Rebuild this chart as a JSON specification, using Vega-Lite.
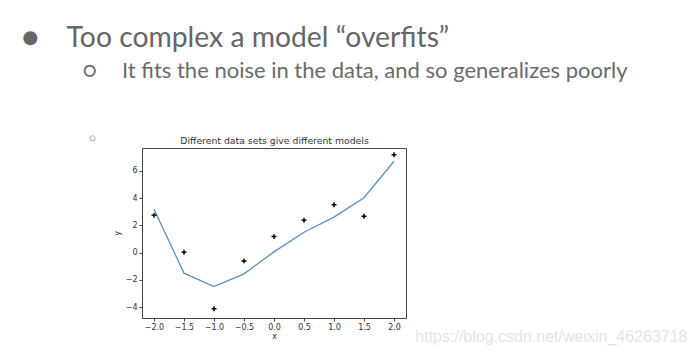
{
  "$schema": "https://vega.github.io/schema/vega-lite/v6.json",
  "width": 264,
  "height": 170,
  "autosize": "none",
  "padding": {"left": 142, "top": 148, "right": 291, "bottom": 36},
  "background": "white",
  "title": {
    "text": "●\u2003 Too complex a model “overfits”",
    "subtitle": "\u200b\u2003\u2003\u2003\u2002○\u2003\u2009 It fits the noise in the data, and so generalizes poorly",
    "anchor": "start",
    "frame": "group",
    "orient": "top",
    "font": "Lato",
    "fontSize": 28.3,
    "fontWeight": "normal",
    "color": "#666666",
    "subtitleFont": "Lato",
    "subtitleFontSize": 22,
    "subtitleColor": "#6b6b6b",
    "subtitlePadding": 8,
    "dx": -120,
    "offset": 50
  },
  "config": {
    "view": {"stroke": "#444444", "strokeWidth": 1},
    "axis": {
      "grid": false,
      "domain": false,
      "labelFont": "DejaVu Sans",
      "labelFontSize": 8,
      "labelColor": "#333333",
      "tickColor": "#444444",
      "tickSize": 3,
      "labelPadding": 2,
      "titleFont": "DejaVu Sans",
      "titleFontSize": 8,
      "titleFontWeight": "normal",
      "titleColor": "#333333"
    }
  },
  "datasets": {
    "fit": [
      {"x": -2.0, "y": 3.17},
      {"x": -1.5, "y": -1.51},
      {"x": -1.0, "y": -2.49},
      {"x": -0.5, "y": -1.56},
      {"x": 0.0, "y": 0.05},
      {"x": 0.5, "y": 1.49},
      {"x": 1.0, "y": 2.6},
      {"x": 1.5, "y": 4.02},
      {"x": 2.0, "y": 6.7}
    ],
    "obs": [
      {"x": -2.0, "y": 2.73},
      {"x": -1.5, "y": 0.02},
      {"x": -1.0, "y": -4.12},
      {"x": -0.5, "y": -0.61},
      {"x": 0.0, "y": 1.17},
      {"x": 0.5, "y": 2.37},
      {"x": 1.0, "y": 3.51},
      {"x": 1.5, "y": 2.66},
      {"x": 2.0, "y": 7.17}
    ]
  },
  "layer": [
    {
      "data": {"name": "fit"},
      "mark": {"type": "line", "color": "#5b8fbf", "strokeWidth": 1.3},
      "encoding": {
        "x": {
          "field": "x", "type": "quantitative",
          "scale": {"domain": [-2.2, 2.2], "nice": false, "zero": false},
          "axis": {"orient": "bottom", "values": [-2, -1.5, -1, -0.5, 0, 0.5, 1, 1.5, 2], "format": ".1f", "title": "x", "titlePadding": 1}
        },
        "y": {
          "field": "y", "type": "quantitative",
          "scale": {"domain": [-4.8, 7.67], "nice": false, "zero": false},
          "axis": {"orient": "left", "values": [-4, -2, 0, 2, 4, 6], "format": "d", "title": "y", "titlePadding": 4}
        }
      }
    },
    {
      "data": {"name": "obs"},
      "mark": {"type": "point", "shape": "M-1,0H1M0,-1V1", "filled": false, "stroke": "#000000", "strokeWidth": 1.5, "size": 24, "opacity": 1},
      "encoding": {
        "x": {
          "field": "x", "type": "quantitative",
          "scale": {"domain": [-2.2, 2.2], "nice": false, "zero": false},
          "axis": {"orient": "top", "labels": false, "ticks": false, "title": "Different data sets give different models", "titleFontSize": 9.3, "titlePadding": 3}
        },
        "y": {
          "field": "y", "type": "quantitative",
          "scale": {"domain": [-4.8, 7.67], "nice": false, "zero": false},
          "axis": {"orient": "right", "labels": false, "ticks": false, "title": "https://blog.csdn.net/weixin_46263718", "titleAngle": 0, "titleX": 281, "titleY": 193, "titleAlign": "right", "titleBaseline": "alphabetic", "titleFont": "Liberation Sans", "titleFontSize": 16, "titleColor": "#e4e4e4"}
        }
      }
    },
    {
      "data": {"name": "obs"},
      "mark": {"type": "point", "opacity": 0},
      "encoding": {
        "x": {
          "field": "x", "type": "quantitative",
          "scale": {"domain": [-2.2, 2.2], "nice": false, "zero": false},
          "axis": null
        },
        "y": {
          "field": "y", "type": "quantitative",
          "scale": {"domain": [-4.8, 7.67], "nice": false, "zero": false},
          "axis": {"orient": "left", "labels": false, "ticks": false, "title": "○", "titleAngle": 0, "titleX": -50, "titleY": -11, "titleAlign": "center", "titleBaseline": "middle", "titleFontSize": 7, "titleColor": "#333333"}
        }
      }
    }
  ],
  "resolve": {"axis": {"x": "independent", "y": "independent"}}
}
